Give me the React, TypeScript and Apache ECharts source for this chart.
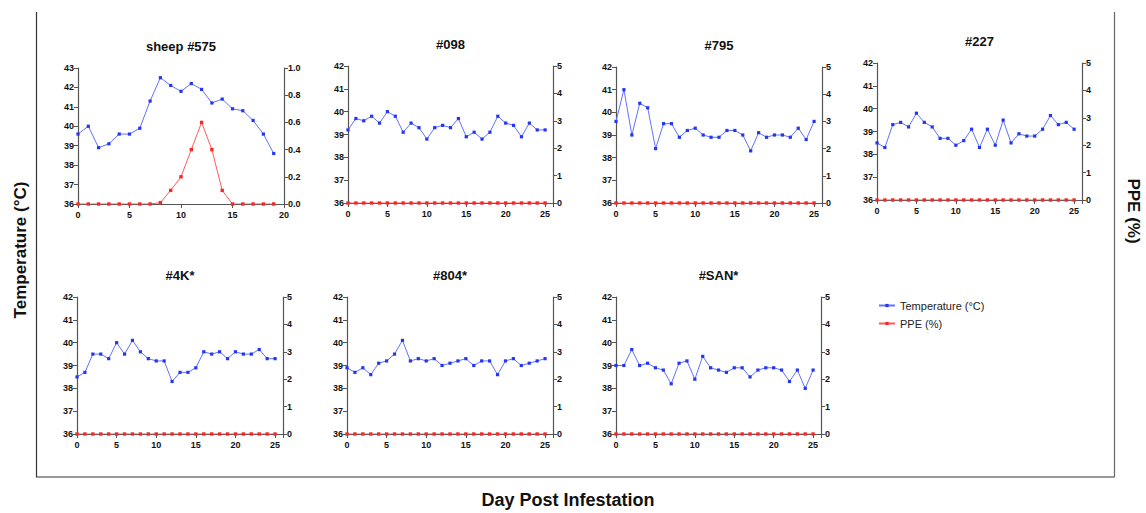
import React, { useEffect, useRef } from "react";
import * as echarts from "echarts";

const titles = ["sheep #575", "#098", "#795", "#227", "#4K*", "#804*", "#SAN*"];

const temp575 = [39.6, 40.0, 38.9, 39.1, 39.6, 39.6, 39.9, 41.3, 42.5, 42.1, 41.8, 42.2, 41.9, 41.2, 41.4, 40.9, 40.8, 40.3, 39.6, 38.6];
const ppe575 = [0, 0, 0, 0, 0, 0, 0, 0, 0.01, 0.1, 0.2, 0.4, 0.6, 0.4, 0.1, 0, 0, 0, 0, 0];
const temp098 = [39.2, 39.7, 39.6, 39.8, 39.5, 40.0, 39.8, 39.1, 39.5, 39.3, 38.8, 39.3, 39.4, 39.3, 39.7, 38.9, 39.1, 38.8, 39.1, 39.8, 39.5, 39.4, 38.9, 39.5, 39.2, 39.2];
const temp795 = [39.6, 41.0, 39.0, 40.4, 40.2, 38.4, 39.5, 39.5, 38.9, 39.2, 39.3, 39.0, 38.9, 38.9, 39.2, 39.2, 39.0, 38.3, 39.1, 38.9, 39.0, 39.0, 38.9, 39.3, 38.8, 39.6];
const temp227 = [38.5, 38.3, 39.3, 39.4, 39.2, 39.8, 39.4, 39.2, 38.7, 38.7, 38.4, 38.6, 39.1, 38.3, 39.1, 38.4, 39.5, 38.5, 38.9, 38.8, 38.8, 39.1, 39.7, 39.3, 39.4, 39.1];
const temp4K = [38.5, 38.7, 39.5, 39.5, 39.3, 40.0, 39.5, 40.1, 39.6, 39.3, 39.2, 39.2, 38.3, 38.7, 38.7, 38.9, 39.6, 39.5, 39.6, 39.3, 39.6, 39.5, 39.5, 39.7, 39.3, 39.3];
const temp804 = [38.9, 38.7, 38.9, 38.6, 39.1, 39.2, 39.5, 40.1, 39.2, 39.3, 39.2, 39.3, 39.0, 39.1, 39.2, 39.3, 39.0, 39.2, 39.2, 38.6, 39.2, 39.3, 39.0, 39.1, 39.2, 39.3];
const tempSAN = [39.0, 39.0, 39.7, 39.0, 39.1, 38.9, 38.8, 38.2, 39.1, 39.2, 38.4, 39.4, 38.9, 38.8, 38.7, 38.9, 38.9, 38.5, 38.8, 38.9, 38.9, 38.8, 38.3, 38.8, 38.0, 38.8];
const ppeZero26 = [0, 0, 0, 0, 0, 0, 0, 0, 0, 0, 0, 0, 0, 0, 0, 0, 0, 0, 0, 0, 0, 0, 0, 0, 0, 0];

const temps = [temp575, temp098, temp795, temp227, temp4K, temp804, tempSAN];
const ppes = [ppe575, ppeZero26, ppeZero26, ppeZero26, ppeZero26, ppeZero26, ppeZero26];

const xMax = [20, 26, 26, 26, 26, 26, 26];
const tempMax = [43, 42, 42, 42, 42, 42, 42];
const ppeMax = [1.0, 5, 5, 5, 5, 5, 5];
const ppeInterval = [0.2, 1, 1, 1, 1, 1, 1];

const grids = [
  { left: 78, top: 68, width: 206, height: 136 },
  { left: 348, top: 66, width: 205, height: 137 },
  { left: 616, top: 67, width: 206, height: 136 },
  { left: 877, top: 63, width: 205, height: 137 },
  { left: 77, top: 297, width: 206, height: 137 },
  { left: 347, top: 297, width: 206, height: 137 },
  { left: 616, top: 297, width: 205, height: 137 },
];

const FONT = "Arial, 'Liberation Sans', Helvetica, sans-serif";
const BLUE_LINE = "#6272ff";
const BLUE_DOT = "#2436f0";
const RED_LINE = "#ff5a5a";
const RED_DOT = "#f02a2a";
const AXIS = "#555";

export default function App() {
  const ref = useRef<HTMLDivElement>(null);
  useEffect(() => {
    document.body.style.margin = "0";
    const chart = echarts.init(ref.current!, null, { renderer: "svg" });
    const axisLine = { show: true, lineStyle: { color: AXIS, width: 1.2 } };
    const axisTick = { show: true, inside: false, length: 4, lineStyle: { color: AXIS, width: 1 } };
    const labelStyle = { fontFamily: FONT, fontWeight: "bold" as const, fontSize: 9, color: "#111" };

    const xAxis: any[] = [];
    const yAxis: any[] = [];
    const series: any[] = [];
    const graphic: any[] = [];

    grids.forEach((g, i) => {
      xAxis.push({
        type: "value",
        gridIndex: i,
        min: 0,
        max: xMax[i],
        interval: 5,
        axisLine,
        axisTick,
        splitLine: { show: false },
        axisLabel: {
          ...labelStyle,
          margin: 6,
          formatter: (v: number) => (v % 5 === 0 ? String(v) : ""),
        },
      });
      yAxis.push({
        type: "value",
        gridIndex: i,
        position: "left",
        min: 36,
        max: tempMax[i],
        interval: 1,
        axisLine,
        axisTick,
        splitLine: { show: false },
        axisLabel: { ...labelStyle, margin: 4 },
      });
      yAxis.push({
        type: "value",
        gridIndex: i,
        position: "right",
        min: 0,
        max: ppeMax[i],
        interval: ppeInterval[i],
        axisLine,
        axisTick,
        splitLine: { show: false },
        axisLabel: {
          ...labelStyle,
          margin: 4,
          formatter: (v: number) => (ppeMax[i] === 1 ? v.toFixed(1) : String(v)),
        },
      });
      series.push({
        type: "line",
        name: "Temperature (°C)",
        xAxisIndex: i,
        yAxisIndex: 2 * i,
        data: temps[i].map((v, k) => [k, v]),
        symbol: "rect",
        symbolSize: 3.2,
        lineStyle: { color: BLUE_LINE, width: 1 },
        itemStyle: { color: BLUE_DOT },
        z: 3,
      });
      series.push({
        type: "line",
        name: "PPE (%)",
        xAxisIndex: i,
        yAxisIndex: 2 * i + 1,
        data: ppes[i].map((v, k) => [k, v]),
        symbol: "rect",
        symbolSize: 3.4,
        lineStyle: { color: RED_LINE, width: 1 },
        itemStyle: { color: RED_DOT },
        z: 4,
      });
      graphic.push({
        type: "text",
        x: g.left + g.width / 2,
        y: g.top - 22,
        style: {
          text: titles[i],
          textAlign: "center",
          textVerticalAlign: "middle",
          font: `bold 13px ${FONT}`,
          fill: "#111",
        },
      });
    });

    graphic.push(
      { type: "line", shape: { x1: 36.5, y1: 12, x2: 36.5, y2: 477 }, style: { stroke: "#333", lineWidth: 1.2 } },
      { type: "line", shape: { x1: 36, y1: 477, x2: 1114.5, y2: 477 }, style: { stroke: "#333", lineWidth: 1.2 } },
      { type: "line", shape: { x1: 1114.5, y1: 12, x2: 1114.5, y2: 477 }, style: { stroke: "#666", lineWidth: 1.2 } },
      {
        type: "text",
        x: 20,
        y: 250,
        rotation: Math.PI / 2,
        style: {
          text: "Temperature (°C)",
          textAlign: "center",
          textVerticalAlign: "middle",
          font: `bold 17px ${FONT}`,
          fill: "#111",
        },
      },
      {
        type: "text",
        x: 1133,
        y: 211,
        rotation: -Math.PI / 2,
        style: {
          text: "PPE (%)",
          textAlign: "center",
          textVerticalAlign: "middle",
          font: `bold 17px ${FONT}`,
          fill: "#111",
        },
      },
      {
        type: "text",
        x: 568,
        y: 500,
        style: {
          text: "Day Post Infestation",
          textAlign: "center",
          textVerticalAlign: "middle",
          font: `bold 18px ${FONT}`,
          fill: "#111",
        },
      }
    );

    chart.setOption({
      animation: false,
      backgroundColor: "#fff",
      grid: grids.map((g) => ({ ...g, containLabel: false })),
      xAxis,
      yAxis,
      series,
      graphic,
      legend: {
        show: true,
        orient: "vertical",
        left: 878,
        top: 299,
        padding: 0,
        itemWidth: 16,
        itemHeight: 4,
        itemGap: 5,
        data: ["Temperature (°C)", "PPE (%)"],
        textStyle: { fontFamily: FONT, fontSize: 11, color: "#222", lineHeight: 13 },
      },
    });
    return () => chart.dispose();
  }, []);
  return <div ref={ref} style={{ position: "fixed", left: 0, top: 0, width: 1146, height: 513 }} />;
}
